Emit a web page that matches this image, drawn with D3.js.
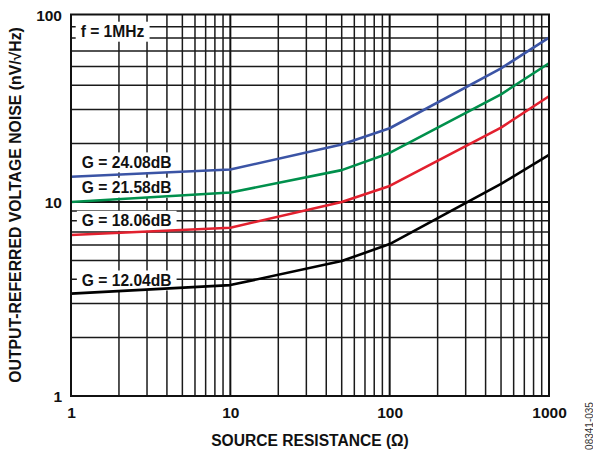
<!DOCTYPE html>
<html><head><meta charset="utf-8">
<script src="https://cdn.jsdelivr.net/npm/d3@7"></script>
<style>html,body{margin:0;padding:0;background:#fff;}svg{display:block;}</style>
</head><body>
<script>
// ---- data ----
const sourceResistance = [1, 10, 50, 100, 500, 1000];
const gain24 = [13.5, 14.7, 19.8, 24.0, 48.9, 70.3];
const gain21 = [10.0, 11.2, 14.6, 17.9, 35.9, 51.9];
const gain18 = [6.76, 7.37, 10.0, 12.1, 24.2, 35.1];
const gain12 = [3.37, 3.73, 4.96, 6.07, 12.4, 17.5];
const seriesNames = ["G = 24.08dB", "G = 21.58dB", "G = 18.06dB", "G = 12.04dB"];
const xTickLabels = ["1", "10", "100", "1000"];
const yTickLabels = ["1", "10", "100"];

(function () {
const W = 593, H = 452;
const pL = 71, pR = 549, pT = 14.5, pB = 396;
const font = "Arial, 'Liberation Sans', Helvetica, sans-serif";

const svg = d3.select("body").append("svg").attr("width", W).attr("height", H);

const x = d3.scaleLog().domain([1, 1000]).range([pL, pR]);
const y = d3.scaleLog().domain([1, 10, 90, 100]).range([pB, 202, 16.9, pT]);

// grid
const g = svg.append("g");
const xMinor = [], yMinor = [];
[1, 10, 100].forEach(d => { for (let k = 2; k <= 9; k++) xMinor.push(d * k); });
for (let k = 2; k <= 9; k++) yMinor.push(k);
for (let k = 2; k <= 8; k++) yMinor.push(k * 10);

g.selectAll(".vx").data(xMinor).enter().append("line")
  .attr("x1", d => x(d)).attr("x2", d => x(d)).attr("y1", pT).attr("y2", pB)
  .attr("stroke", "#1a1a1a").attr("stroke-width", 1.5);
g.selectAll(".vX").data([10, 100]).enter().append("line")
  .attr("x1", d => x(d)).attr("x2", d => x(d)).attr("y1", pT).attr("y2", pB)
  .attr("stroke", "#111").attr("stroke-width", 2);
g.selectAll(".hy").data(yMinor).enter().append("line")
  .attr("x1", pL).attr("x2", pR).attr("y1", d => y(d)).attr("y2", d => y(d))
  .attr("stroke", "#1a1a1a").attr("stroke-width", 1.5);
g.selectAll(".hY").data([10]).enter().append("line")
  .attr("x1", pL).attr("x2", pR).attr("y1", d => y(d)).attr("y2", d => y(d))
  .attr("stroke", "#111").attr("stroke-width", 2);

const labelLayer = svg.append("g");
function boxLabel(text, xv, yv) {
  const grp = labelLayer.append("g");
  const rect = grp.append("rect");
  const t = grp.append("text").attr("x", x(xv)).attr("y", y(yv)).attr("dy", "0.36em")
    .attr("font-family", font).attr("font-weight", "bold").attr("font-size", 15.6)
    .attr("fill", "#111").text(text);
  const bb = t.node().getBBox();
  rect.attr("x", bb.x - 5).attr("y", y(yv) - 10)
    .attr("width", bb.width + 10).attr("height", 20).attr("fill", "#fff");
}

const allSeries = [gain24, gain21, gain18, gain12];
const colors = ["#3b54a5", "#00904c", "#e2202e", "#000000"];
const line = d3.line().x((d, i) => x(sourceResistance[i])).y(d => y(d));

const labelX = 1.17;
const labelY = [16.0, 11.85, 8.0, 3.94];
seriesNames.forEach((n, i) => boxLabel(n, labelX, labelY[i]));
boxLabel("f = 1MHz", 1.15, 75.5);

allSeries.forEach((s, i) => {
  svg.append("path").datum(s).attr("d", line).attr("fill", "none")
    .attr("stroke", colors[i]).attr("stroke-width", 2.6).attr("stroke-linejoin", "round");
});

svg.append("rect").attr("x", pL).attr("y", pT).attr("width", pR - pL).attr("height", pB - pT)
  .attr("fill", "none").attr("stroke", "#111").attr("stroke-width", 2);

const xAxis = d3.axisBottom(x).tickValues([1, 10, 100, 1000]).tickSize(0).tickPadding(0)
  .tickFormat((d, i) => xTickLabels[i]);
const xa = svg.append("g").attr("transform", `translate(0,${pB})`).call(xAxis);
xa.select(".domain").remove();
xa.selectAll("text").attr("font-family", font).attr("font-weight", "bold").attr("font-size", 15.5)
  .attr("fill", "#111").attr("dy", null).attr("y", 22);

const yAxis = d3.axisLeft(y).tickValues([1, 10, 100]).tickSize(0).tickPadding(9)
  .tickFormat((d, i) => yTickLabels[i]);
const ya = svg.append("g").attr("transform", `translate(${pL},0)`).call(yAxis);
ya.select(".domain").remove();
ya.selectAll("text").attr("font-family", font).attr("font-weight", "bold").attr("font-size", 15.5)
  .attr("fill", "#111").attr("dy", "0.36em");

svg.append("text").attr("x", 310).attr("y", 446).attr("text-anchor", "middle")
  .attr("font-family", font).attr("font-weight", "bold").attr("font-size", 15.6).attr("fill", "#111")
  .text("SOURCE RESISTANCE (Ω)");
svg.append("text").attr("transform", "translate(20.5,205) rotate(-90)").attr("text-anchor", "middle")
  .attr("font-family", font).attr("font-weight", "bold").attr("font-size", 15.8).attr("fill", "#111")
  .text("OUTPUT-REFERRED VOLTAGE NOISE (nV/√Hz)");
svg.append("text").attr("transform", "translate(592.5,426) rotate(-90)").attr("text-anchor", "middle")
  .attr("font-family", font).attr("font-size", 10).attr("fill", "#333")
  .text("08341-035");
})();
</script>
</body></html>
